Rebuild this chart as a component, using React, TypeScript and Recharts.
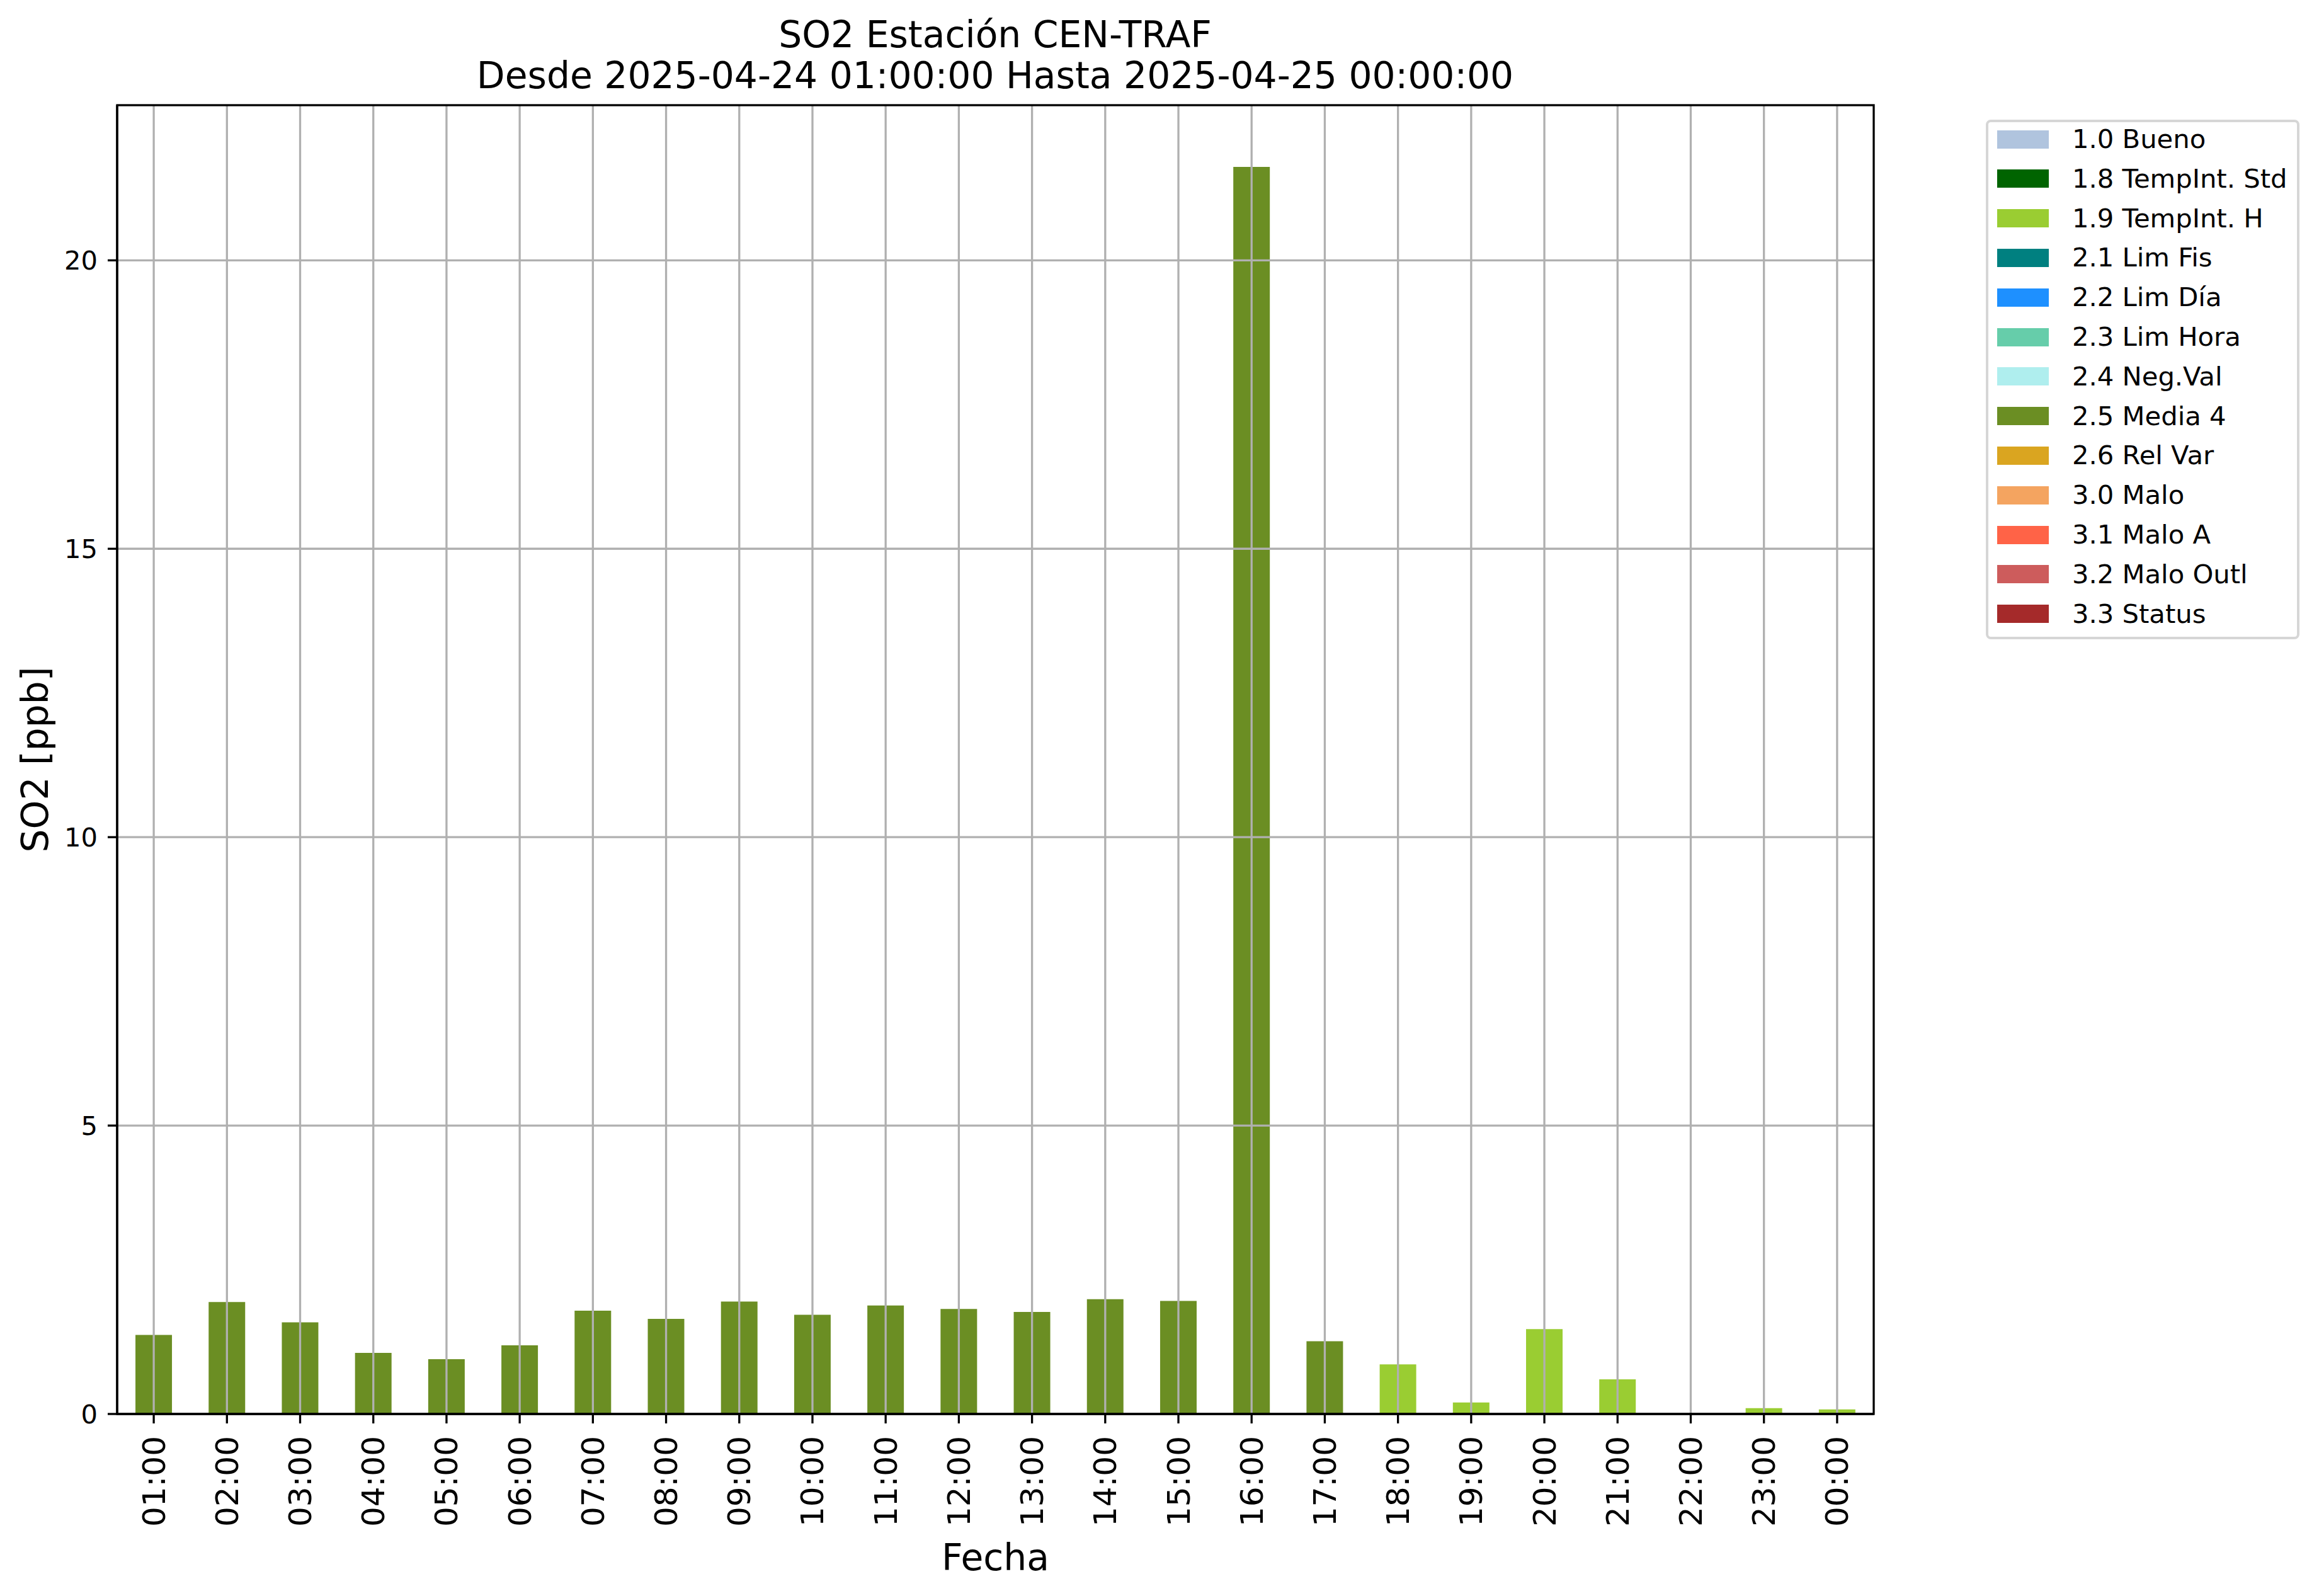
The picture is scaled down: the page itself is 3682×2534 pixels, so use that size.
import React from 'react';
import { BarChart, Bar, XAxis, YAxis, Legend, ReferenceLine } from 'recharts';

const hours = [
  '01:00', '02:00', '03:00', '04:00', '05:00', '06:00', '07:00', '08:00',
  '09:00', '10:00', '11:00', '12:00', '13:00', '14:00', '15:00', '16:00',
  '17:00', '18:00', '19:00', '20:00', '21:00', '22:00', '23:00', '00:00',
];

const so2Values: (number | null)[] = [
  1.37, 1.94, 1.59, 1.06, 0.95, 1.19, 1.79, 1.65,
  1.95, 1.72, 1.88, 1.82, 1.77, 1.99, 1.96, 21.62,
  1.26, 0.86, 0.2, 1.47, 0.6, null, 0.1, 0.08,
];

const hourFlags = [
  '2.5 Media 4', '2.5 Media 4', '2.5 Media 4', '2.5 Media 4', '2.5 Media 4', '2.5 Media 4',
  '2.5 Media 4', '2.5 Media 4', '2.5 Media 4', '2.5 Media 4', '2.5 Media 4', '2.5 Media 4',
  '2.5 Media 4', '2.5 Media 4', '2.5 Media 4', '2.5 Media 4', '2.5 Media 4',
  '1.9 TempInt. H', '1.9 TempInt. H', '1.9 TempInt. H', '1.9 TempInt. H', '1.9 TempInt. H',
  '1.9 TempInt. H', '1.9 TempInt. H',
];

const flagNames = [
  '1.0 Bueno', '1.8 TempInt. Std', '1.9 TempInt. H', '2.1 Lim Fis', '2.2 Lim Día',
  '2.3 Lim Hora', '2.4 Neg.Val', '2.5 Media 4', '2.6 Rel Var', '3.0 Malo',
  '3.1 Malo A', '3.2 Malo Outl', '3.3 Status',
];

const flagColors = [
  '#B0C4DE', '#006400', '#9ACD32', '#008080', '#1E90FF',
  '#66CDAA', '#AFEEEE', '#6B8E23', '#DAA520', '#F4A460',
  '#FF6347', '#CD5C5C', '#A52A2A',
];

const yTicks = [0, 5, 10, 15, 20];
const yMax = 22.69;

const titleLine1 = 'SO2 Estación CEN-TRAF';
const titleLine2 = 'Desde 2025-04-24 01:00:00 Hasta 2025-04-25 00:00:00';
const xLabel = 'Fecha';
const yLabel = 'SO2 [ppb]';

const W = 3682;
const H = 2534;
const PLOT = { left: 186, top: 167, right: 2975, bottom: 2245 };
const FONT = '"DejaVu Sans", sans-serif';
const GRID = '#b0b0b0';

const data = hours.map((h, i) => {
  const row: Record<string, any> = { hour: h };
  flagNames.forEach((f, k) => {
    row['f' + k] = hourFlags[i] === f ? so2Values[i] : null;
  });
  return row;
});

const XTick = (props: any) => {
  const { x, y, payload } = props;
  return (
    <text
      x={x}
      y={y}
      transform={`rotate(-90, ${x}, ${y})`}
      textAnchor="end"
      dy="0.35em"
      fontSize={50}
      fontFamily={FONT}
      fill="#000"
    >
      {payload.value}
    </text>
  );
};

const YTick = (props: any) => {
  const { x, y, payload } = props;
  return (
    <text x={x} y={y} textAnchor="end" dy="0.36em" fontSize={41.7} fontFamily={FONT} fill="#000">
      {payload.value}
    </text>
  );
};

const LegendContent = (props: any) => {
  const payload = props.payload || [];
  return (
    <div
      style={{
        width: 498,
        height: 825,
        boxSizing: 'border-box',
        border: '4px solid #d6d6d6',
        borderRadius: 8,
        background: '#fff',
        fontFamily: FONT,
        fontSize: 41.7,
        position: 'relative',
      }}
    >
      {payload.map((p: any, i: number) => (
        <div
          key={i}
          style={{
            position: 'absolute',
            left: 0,
            top: 27 + i * 62.8 - 31,
            height: 62,
            display: 'flex',
            alignItems: 'center',
            whiteSpace: 'nowrap',
          }}
        >
          <div style={{ marginLeft: 14, width: 82, height: 29, background: p.color }} />
          <span style={{ marginLeft: 37, color: '#000', lineHeight: '62px' }}>{p.value}</span>
        </div>
      ))}
    </div>
  );
};

export default function App() {
  return (
    <div style={{ position: 'absolute', left: 0, top: 0, width: W, height: H, background: '#fff', fontFamily: FONT }}>
      <svg width={W} height={200} style={{ position: 'absolute', left: 0, top: 0 }}>
        <text x={1580} y={75} textAnchor="middle" fontSize={58.3} fontFamily={FONT} fill="#000">
          {titleLine1}
        </text>
        <text x={1580} y={140} textAnchor="middle" fontSize={58.3} fontFamily={FONT} fill="#000">
          {titleLine2}
        </text>
      </svg>
      <div style={{ position: 'absolute', left: 0, top: 0 }}>
        <BarChart
          width={W}
          height={H}
          data={data}
          margin={{ top: PLOT.top, right: W - PLOT.right, bottom: 0, left: 0 }}
          barCategoryGap="25%"
        >
          <XAxis
            dataKey="hour"
            interval={0}
            height={H - PLOT.bottom}
            tickSize={15}
            tickMargin={20}
            tick={<XTick />}
            axisLine={{ stroke: '#000', strokeWidth: 3.3 }}
            tickLine={{ stroke: '#000', strokeWidth: 3.3 }}
            label={(lp: any) => {
              const vb = lp.viewBox || { x: 186, y: 2245, width: 2789, height: 289 };
              return (
                <text
                  x={vb.x + vb.width / 2}
                  y={2493}
                  textAnchor="middle"
                  fontSize={58.3}
                  fontFamily={FONT}
                  fill="#000"
                >
                  {xLabel}
                </text>
              );
            }}
          />
          <YAxis
            type="number"
            domain={[0, yMax]}
            ticks={yTicks}
            width={PLOT.left}
            tickSize={15}
            tickMargin={16}
            tick={<YTick />}
            axisLine={{ stroke: '#000', strokeWidth: 3.3 }}
            tickLine={{ stroke: '#000', strokeWidth: 3.3 }}
            allowDataOverflow
            label={(lp: any) => {
              const vb = lp.viewBox || { x: 0, y: 167, width: 186, height: 2078 };
              const cy = vb.y + vb.height / 2;
              return (
                <text
                  x={75.5}
                  y={cy}
                  transform={`rotate(-90, 75.5, ${cy})`}
                  textAnchor="middle"
                  fontSize={58.3}
                  fontFamily={FONT}
                  fill="#000"
                >
                  {yLabel}
                </text>
              );
            }}
          />
          {flagNames.map((f, k) => (
            <Bar
              key={f}
              dataKey={'f' + k}
              name={f}
              stackId="flags"
              fill={flagColors[k]}
              isAnimationActive={false}
            />
          ))}
          {hours.map((h) => (
            <ReferenceLine key={'vx' + h} x={h} stroke={GRID} strokeWidth={3.3} />
          ))}
          {yTicks.filter((t) => t > 0).map((t) => (
            <ReferenceLine key={'hy' + t} y={t} stroke={GRID} strokeWidth={3.3} />
          ))}
          <Legend
            layout="vertical"
            align="center"
            verticalAlign="middle"
            content={<LegendContent />}
            wrapperStyle={{ position: 'absolute', left: 3153, top: 190, width: 498, height: 825 }}
          />
        </BarChart>
      </div>
      <svg
        width={W}
        height={H}
        style={{ position: 'absolute', left: 0, top: 0, pointerEvents: 'none' }}
      >
        <rect
          x={PLOT.left}
          y={PLOT.top}
          width={PLOT.right - PLOT.left}
          height={PLOT.bottom - PLOT.top}
          fill="none"
          stroke="#000"
          strokeWidth={3.3}
        />
      </svg>
    </div>
  );
}
